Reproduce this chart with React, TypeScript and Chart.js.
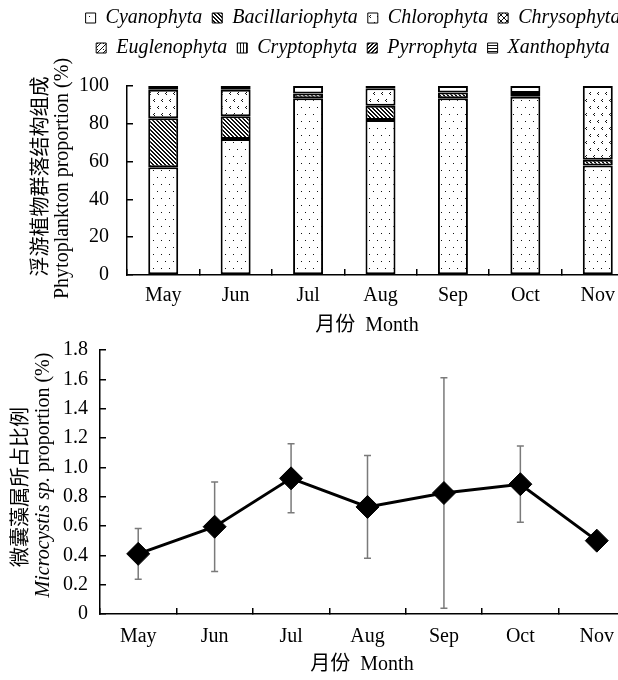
import React, { useEffect, useRef } from 'react';
import { Chart, registerables } from 'chart.js';
Chart.register(...registerables);

// ---------- data ----------
const months = ['May', 'Jun', 'Jul', 'Aug', 'Sep', 'Oct', 'Nov'];
const groupNames = ['Cyanophyta', 'Bacillariophyta', 'Chlorophyta', 'Chrysophyta', 'Euglenophyta', 'Cryptophyta', 'Pyrrophyta', 'Xanthophyta'];
const cyanophyta = [57, 72, 93.5, 82, 93.5, 94.3, 58];
const bacillariophyta = [26, 12, 2.5, 7.6, 3, 2, 3];
const chlorophyta = [15, 14, 4, 9.2, 3.5, 3.7, 39];
const chrysophyta = [2, null, null, 1.2, null, null, null];
const euglenophyta = [null, null, null, null, null, null, null];
const cryptophyta = [null, null, null, null, null, null, null];
const pyrrophyta = [null, 2, null, null, null, null, null];
const xanthophyta = [null, null, null, null, null, null, null];
const proportionTicks = [0, 20, 40, 60, 80, 100];

const microcystis = [0.41, 0.595, 0.925, 0.73, 0.825, 0.885, 0.5];
const microcystisErr = [0.173, 0.305, 0.235, 0.35, 0.785, 0.26, 0];

const FAM = "'Liberation Serif', 'Times New Roman', 'Noto Sans CJK SC', serif";
Chart.defaults.color = '#000';
Chart.defaults.font.family = FAM;

function fontStr(italic: boolean, size = 20) {
  return `${italic ? 'italic ' : ''}${size}px ${FAM}`;
}

function pat(w: number, h: number, draw: (g: CanvasRenderingContext2D) => void) {
  const c = document.createElement('canvas');
  c.width = w; c.height = h;
  const g = c.getContext('2d')!;
  g.fillStyle = '#fff'; g.fillRect(0, 0, w, h);
  g.fillStyle = '#111';
  draw(g);
  return g.createPattern(c, 'repeat')!;
}

function makePatterns() {
  return [
    pat(8, 14, g => { g.fillRect(1, 2, 1, 1); g.fillRect(5, 9, 1, 1); }),
    pat(4, 4, g => { for (let i = 0; i < 4; i++) { g.fillRect(i, i, 1, 1); g.fillRect((i + 1) % 4, i, 1, 1); } }),
    pat(8, 14, g => {
      const chev = (x: number, y: number) => { g.fillRect(x + 1, y, 1, 1); g.fillRect(x, y + 1, 1, 1); g.fillRect(x + 1, y + 2, 1, 1); };
      chev(1, 1); chev(5, 8);
    }),
    pat(6, 6, g => { for (let i = 0; i < 6; i++) { g.fillRect(i, i, 1, 1); g.fillRect(5 - i, i, 1, 1); } }),
    pat(6, 6, g => { for (let i = 0; i < 6; i++) { g.fillRect(5 - i, i, 1, 1); } g.fillRect(1, 1, 1, 1); }),
    pat(3, 3, g => { g.fillRect(0, 0, 1, 3); }),
    pat(4, 4, g => { for (let i = 0; i < 4; i++) { g.fillRect(3 - i, i, 1, 1); g.fillRect((4 - i) % 4, i, 1, 1); } }),
    pat(3, 3, g => { g.fillRect(0, 0, 3, 1); }),
  ];
}

type Seg = { text: string; italic?: boolean };
type TitleCfg = {
  yLines: { dx: number; dy: number; segs: Seg[] }[];
  xTitle: { dx: number; dy: number; text: string };
};

function axisTitlesPlugin(cfg: TitleCfg) {
  return {
    id: 'axisTitles',
    afterDraw(chart: any) {
      const { ctx, chartArea } = chart;
      const cy = (chartArea.top + chartArea.bottom) / 2;
      ctx.save();
      ctx.fillStyle = '#000';
      ctx.textBaseline = 'middle';
      for (const line of cfg.yLines) {
        ctx.save();
        ctx.translate(chartArea.left + line.dx, cy + line.dy);
        ctx.rotate(-Math.PI / 2);
        let total = 0;
        const widths = line.segs.map(s => { ctx.font = fontStr(!!s.italic); const w = ctx.measureText(s.text).width; total += w; return w; });
        let x = -total / 2;
        ctx.textAlign = 'left';
        line.segs.forEach((s, i) => { ctx.font = fontStr(!!s.italic); ctx.fillText(s.text, x, 0); x += widths[i]; });
        ctx.restore();
      }
      ctx.font = fontStr(false);
      ctx.textAlign = 'center';
      ctx.fillText(cfg.xTitle.text, chartArea.left + cfg.xTitle.dx, chartArea.bottom + cfg.xTitle.dy);
      ctx.restore();
    },
  };
}

const legendHeightPlugin = {
  id: 'legendHeight',
  beforeLayout(chart: any) {
    const lg = chart.legend;
    if (lg && !lg._patched) {
      const orig = lg.fit.bind(lg);
      lg.fit = function () { orig(); this.height = 88; };
      lg._patched = true;
    }
  },
};

const errorBarPlugin = {
  id: 'errbars',
  beforeDatasetsDraw(chart: any) {
    const { ctx } = chart;
    const xs = chart.scales.x, ys = chart.scales.y;
    ctx.save();
    ctx.strokeStyle = '#7a7a7a';
    ctx.lineWidth = 1.5;
    microcystis.forEach((v, i) => {
      const e = microcystisErr[i];
      if (!e) return;
      const px = xs.getPixelForValue(i);
      const top = ys.getPixelForValue(v + e);
      const bot = ys.getPixelForValue(v - e);
      ctx.beginPath();
      ctx.moveTo(px, top); ctx.lineTo(px, bot);
      ctx.moveTo(px - 3.5, top); ctx.lineTo(px + 3.5, top);
      ctx.moveTo(px - 3.5, bot); ctx.lineTo(px + 3.5, bot);
      ctx.stroke();
    });
    ctx.restore();
  },
};

const tickFont = { family: FAM, size: 20 };
const axisGrid = { drawOnChartArea: false, tickLength: -6, color: '#000', lineWidth: 1.5 };
const axisBorder = { color: '#000', width: 1.5 };

function CompositionChart() {
  const ref = useRef<HTMLCanvasElement>(null);
  useEffect(() => {
    const pats = makePatterns();
    const series = [cyanophyta, bacillariophyta, chlorophyta, chrysophyta, euglenophyta, cryptophyta, pyrrophyta, xanthophyta];
    const chart = new Chart(ref.current!, {
      type: 'bar',
      data: {
        labels: months,
        datasets: series.map((d, i) => ({
          label: groupNames[i],
          data: d as any,
          backgroundColor: pats[i] as any,
          borderColor: '#000',
          borderWidth: 2,
          borderSkipped: false,
          categoryPercentage: 1,
          barPercentage: 0.414,
        })),
      },
      options: {
        responsive: false,
        animation: false,
        layout: { padding: { left: 72, right: 26, top: -2, bottom: 0 } },
        plugins: {
          tooltip: { enabled: false },
          legend: {
            position: 'top',
            labels: {
              boxWidth: 10,
              boxHeight: 10,
              padding: 10,
              color: '#000',
              font: { family: FAM, size: 20, style: 'italic' },
              generateLabels: (c: any) =>
                (Chart.defaults.plugins.legend.labels.generateLabels as any)(c).map((it: any) => ({ ...it, lineWidth: 1 })),
            },
          },
        },
        scales: {
          x: {
            stacked: true,
            grid: { ...axisGrid, offset: true },
            border: axisBorder,
            ticks: { font: tickFont, padding: 15, color: '#000' },
            afterFit: (s: any) => { s.height = 65; },
          },
          y: {
            stacked: true,
            min: 0,
            max: 100,
            grid: axisGrid,
            border: axisBorder,
            afterBuildTicks: (s: any) => { s.ticks = proportionTicks.map(v => ({ value: v })); },
            ticks: { font: tickFont, padding: 24, color: '#000' },
            afterFit: (s: any) => { s.width = 55; s.paddingTop = 12; s.paddingBottom = 12; },
          },
        },
      },
      plugins: [
        legendHeightPlugin,
        axisTitlesPlugin({
          yLines: [
            { dx: -85, dy: -4, segs: [{ text: '浮游植物群落结构组成' }] },
            { dx: -64, dy: -2, segs: [{ text: 'Phytoplankton proportion (%)' }] },
          ],
          xTitle: { dx: 240, dy: 51, text: '月份  Month' },
        }),
      ],
    } as any);
    return () => chart.destroy();
  }, []);
  return <canvas ref={ref} width={660} height={340} style={{ position: 'absolute', left: 0, top: 0, width: 660, height: 340 }} />;
}

function MicrocystisChart() {
  const ref = useRef<HTMLCanvasElement>(null);
  useEffect(() => {
    const chart = new Chart(ref.current!, {
      type: 'line',
      data: {
        labels: months,
        datasets: [{
          label: 'Microcystis',
          data: microcystis,
          borderColor: '#000',
          borderWidth: 3,
          pointStyle: 'rectRot',
          pointRadius: 11.5,
          pointBackgroundColor: '#000',
          pointBorderColor: '#000',
          pointBorderWidth: 1,
          tension: 0,
        }],
      },
      options: {
        responsive: false,
        animation: false,
        layout: { autoPadding: false, padding: { left: 0, right: 25, top: 0, bottom: 0 } },
        plugins: { legend: { display: false }, tooltip: { enabled: false } },
        scales: {
          x: {
            offset: true,
            grid: { ...axisGrid, offset: true },
            border: axisBorder,
            ticks: { font: tickFont, padding: 17, color: '#000' },
            afterFit: (s: any) => { s.height = 66; },
          },
          y: {
            min: 0,
            max: 1.8,
            grid: axisGrid,
            border: axisBorder,
            ticks: {
              stepSize: 0.2,
              font: tickFont,
              padding: 18,
              color: '#000',
              callback: (v: any) => (Math.abs(v) < 1e-9 ? '0' : Number(v).toFixed(1)),
            },
            afterFit: (s: any) => { s.width = 100; s.paddingTop = 12; s.paddingBottom = 12; },
          },
        },
      },
      plugins: [
        errorBarPlugin,
        axisTitlesPlugin({
          yLines: [
            { dx: -78, dy: 5, segs: [{ text: '微囊藻属所占比例' }] },
            { dx: -56, dy: -7, segs: [{ text: 'Microcystis sp.', italic: true }, { text: ' proportion (%)' }] },
          ],
          xTitle: { dx: 262, dy: 51, text: '月份  Month' },
        }),
      ],
    } as any);
    return () => chart.destroy();
  }, []);
  return <canvas ref={ref} width={660} height={342} style={{ position: 'absolute', left: 0, top: 338, width: 660, height: 342 }} />;
}

export default function App() {
  return (
    <div style={{ position: 'absolute', left: 0, top: 0, width: 618, height: 680, overflow: 'hidden', background: '#fff' }}>
      <CompositionChart />
      <MicrocystisChart />
    </div>
  );
}
